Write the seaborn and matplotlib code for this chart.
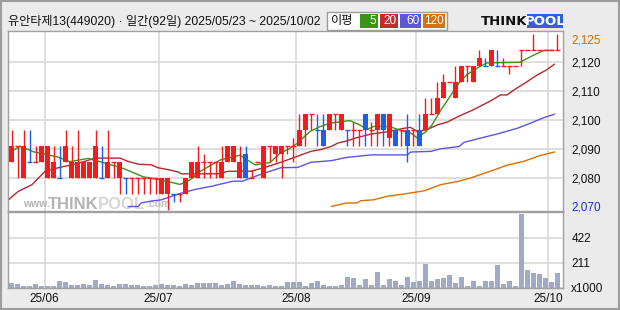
import numpy as np
import matplotlib
matplotlib.use("Agg")
import matplotlib.pyplot as plt
import matplotlib.transforms as mtransforms
from matplotlib.patches import Rectangle
import seaborn as sns

sns.set_style("white")
plt.rcParams['font.family'] = ['Liberation Sans', 'Noto Sans CJK KR', 'DejaVu Sans']

# ---------------- data ----------------
title = "유안타제13(449020) · 일간(92일) 2025/05/23 ~ 2025/10/02"

opens = [2085, 2090, 2080, 2085, 2085, 2085, 2080, 2080, 2080, 2085,
         2080, 2080, 2080, 2080, 2080, 2080, 2080, 2085, 2080, 2080,
         2080, 2080, 2080, 2080, 2080, 2075, 2075, 2075, 2075, 2075,
         2080, 2080, 2085, 2085, 2085, 2080, 2085, 2085, 2080, 2087.5,
         2080, 2085, 2080, 2090, 2087.5, 2087.5, 2090, 2090, 2090, 2095,
         2100, 2095, 2095, 2095, 2100, 2095, 2095, 2095, 2095, 2100,
         2095, 2095, 2100, 2092.5, 2095, 2095, 2095, 2095, 2095, 2095,
         2100, 2100, 2105, 2110, 2105, 2110, 2115, 2110, 2115, 2115,
         2115, 2115, 2115, 2115, 2115, 2120, 2120, 2120, 2120, 2120,
         2120, 2120]
highs = [2095, 2090, 2095, 2095, 2090, 2090, 2090, 2090, 2090, 2095,
         2090, 2095, 2085, 2085, 2095, 2090, 2095, 2085, 2085, 2080,
         2080, 2080, 2080, 2080, 2080, 2080, 2080, 2075, 2075, 2080,
         2085, 2090, 2087.5, 2085, 2085, 2090, 2090, 2090, 2090, 2090,
         2082.5, 2085, 2090, 2090, 2090, 2090, 2090, 2092.5, 2100, 2100,
         2100, 2100, 2100, 2100, 2100, 2100, 2095, 2097.5, 2095, 2100,
         2097.5, 2100, 2100, 2100, 2095, 2095, 2100, 2095, 2100, 2105,
         2105, 2110, 2112.5, 2110, 2115, 2115, 2115, 2115, 2120, 2117.5,
         2120, 2120, 2117.5, 2115, 2115, 2120, 2120, 2125, 2120, 2120,
         2120, 2125]
lows = [2085, 2080, 2080, 2085, 2085, 2085, 2080, 2080, 2080, 2085,
        2080, 2080, 2080, 2080, 2080, 2080, 2080, 2080, 2075, 2075,
        2075, 2075, 2075, 2075, 2075, 2075, 2070, 2072.5, 2072.5, 2075,
        2080, 2080, 2080, 2080, 2080, 2080, 2085, 2085, 2080, 2080,
        2080, 2085, 2080, 2085, 2085, 2080, 2087.5, 2085, 2090, 2090,
        2095, 2090, 2090, 2095, 2095, 2095, 2090, 2090, 2090, 2090,
        2090, 2090, 2090, 2090, 2090, 2090, 2085, 2090, 2090, 2095,
        2100, 2100, 2105, 2110, 2105, 2110, 2110, 2110, 2115, 2115,
        2115, 2115, 2115, 2112.5, 2115, 2115, 2120, 2120, 2120, 2120,
        2120, 2120]
closes = [2090, 2090, 2090, 2085, 2085, 2090, 2090, 2085, 2080, 2090,
          2085, 2085, 2085, 2085, 2090, 2080, 2085, 2085, 2085, 2080,
          2080, 2080, 2080, 2080, 2080, 2080, 2080, 2075, 2075, 2080,
          2085, 2085, 2085, 2085, 2085, 2085, 2090, 2090, 2085, 2080,
          2080, 2085, 2090, 2090, 2090, 2090, 2090, 2090, 2095, 2100,
          2100, 2095, 2090, 2100, 2100, 2100, 2095, 2095, 2095, 2095,
          2095, 2100, 2095, 2100, 2090, 2095, 2090, 2095, 2090, 2100,
          2100, 2105, 2110, 2110, 2110, 2115, 2115, 2115, 2117.5, 2115,
          2120, 2115, 2115, 2115, 2115, 2120, 2120, 2120, 2120, 2120,
          2120, 2120]
volume_k = [45, 34, 14, 14, 31, 14, 14, 14, 62, 48,
            25, 25, 31, 22, 65, 31, 22, 14, 37, 31,
            28, 22, 14, 14, 22, 37, 25, 22, 14, 37,
            28, 39, 39, 39, 39, 25, 34, 56, 34, 28,
            22, 25, 14, 28, 14, 14, 48, 48, 48, 14,
            39, 56, 22, 14, 14, 22, 90, 81, 22, 73,
            22, 132, 22, 73, 59, 22, 90, 48, 56, 200,
            56, 76, 81, 107, 39, 93, 14, 56, 14, 56,
            56, 191, 31, 56, 14, 625, 149, 124, 115, 84,
            48, 127]

ma5_idx = [-0.4, 1.4, 2.25, 3.6, 7.6, 9.75, 12.75, 14.75, 18.6, 21.9, 24.75, 28.1,
           29.75, 31.4, 34.75, 38.1, 40.6, 43.1, 44.75, 46.4, 47.6, 49.75, 51.4,
           53.1, 56.4, 58.1, 59.25, 60.4, 63.1, 65.4, 66.6, 67.6, 69.1, 70.1,
           71.6, 73.25, 74.6, 75.9, 77.6, 79.25, 84.75, 87.1, 88.75, 90.4]
ma5_val = [2087.9, 2090.0, 2089.4, 2088.3, 2086.7, 2085.2, 2086.2, 2085.2, 2083.1,
           2080.5, 2079.5, 2078.1, 2079.5, 2082.1, 2085.7, 2087.2, 2084.2, 2084.9,
           2087.8, 2089.3, 2090.9, 2094.6, 2096.1, 2097.2, 2098.0, 2096.6, 2095.2,
           2096.2, 2096.1, 2094.6, 2094.1, 2092.6, 2094.6, 2096.7, 2101.4, 2106.0,
           2109.8, 2112.3, 2114.4, 2116.0, 2116.2, 2118.5, 2119.9, 2119.9]
ma20_idx = [-0.5, 1.1, 3.4, 4.5, 5.6, 7.8, 10.0, 12.25, 13.9, 18.1, 19.4, 21.1, 23.3,
            24.4, 26.1, 27.75, 28.3, 31.6, 34.4, 36.1, 39.9, 42.1, 44.9, 47.7, 49.9,
            51.6, 53.25, 54.4, 55.75, 57.6, 59.9, 62.6, 65.4, 66.5, 67.6, 69.3, 71.0,
            72.6, 74.6, 77.0, 79.8, 81.5, 82.6, 83.7, 85.9, 87.6, 89.25, 90.5]
ma20_val = [2073.3, 2075.9, 2078.0, 2080.1, 2082.2, 2083.3, 2084.2, 2085.3, 2086.3,
            2086.3, 2085.3, 2084.4, 2084.2, 2083.3, 2082.7, 2082.0, 2081.4, 2081.4,
            2081.4, 2082.2, 2082.2, 2083.3, 2085.0, 2086.9, 2088.4, 2089.0, 2089.9,
            2091.0, 2091.6, 2092.7, 2093.8, 2094.5, 2095.6, 2095.9, 2094.6, 2095.2,
            2096.7, 2097.5, 2099.4, 2101.4, 2104.1, 2106.0, 2106.0, 2107.5, 2110.1,
            2112.2, 2113.9, 2115.6]
ma60_idx = [19.4, 21.1, 21.6, 23.3, 25.0, 27.8, 30.5, 33.3, 36.9, 38.5, 39.9, 42.1,
            44.9, 47.7, 49.9, 53.3, 55.8, 59.9, 66.0, 66.5, 69.9, 71.5, 74.6, 75.4,
            78.1, 81.5, 84.3, 86.5, 88.7, 90.5]
ma60_val = [2071.2, 2071.2, 2072.3, 2072.9, 2073.3, 2075.1, 2076.5, 2077.5, 2079.1,
            2079.1, 2080.1, 2081.6, 2083.3, 2083.4, 2085.0, 2085.5, 2086.5, 2087.3,
            2087.3, 2088.2, 2088.4, 2089.2, 2089.9, 2091.2, 2092.5, 2094.1, 2095.6,
            2097.2, 2098.9, 2100.0]
ma120_idx = [53.3, 55.8, 57.6, 58.2, 60.4, 62.6, 65.4, 68.8, 71.5, 74.6, 76.5, 79.8,
             82.6, 85.4, 88.1, 90.5]
ma120_val = [2071.2, 2072.3, 2072.3, 2073.0, 2073.3, 2074.4, 2075.1, 2076.1, 2078.0,
             2079.1, 2080.1, 2082.2, 2084.1, 2085.3, 2087.1, 2088.2]

month_labels = ['25/06', '25/07', '25/08', '25/09', '25/10']
month_start_idx = [6, 25, 48, 68, 90]
price_grid_labels = ['2,080', '2,090', '2,100', '2,110', '2,120']
price_grid_values = [2080.0, 2089.05, 2098.1, 2107.15, 2116.2]
vol_tick_values = [0, 211, 422]
vol_tick_labels = ['x1000', '211', '422']
ma_labels = ['5', '20', '60', '120']

# ---------------- style ----------------
RED = '#f21c1c'
BLUE = '#1f5fe6'
C_MA5 = '#3b9318'
C_MA20 = '#b8262a'
C_MA60 = '#5b55e0'
C_MA120 = '#dc6e00'
GRID = '#d8d8d8'
SPINE = '#a0a0a0'
W, H = 620, 310

fig = plt.figure(figsize=(6.2, 3.1), dpi=100, facecolor='#ebebeb')


def fx(px):
    return px / W


def fy(py):
    return 1 - py / H


def rect_px(x0, y0, x1, y1, **kw):
    r = Rectangle((fx(x0), fy(y1)), fx(x1) - fx(x0), fy(y0) - fy(y1),
                  transform=fig.transFigure, **kw)
    fig.patches.append(r)


ax = fig.add_axes([fx(7.5), fy(211), fx(563) - fx(7.5), fy(31) - fy(211)])
axv = fig.add_axes([fx(7.5), fy(288), fx(563) - fx(7.5), fy(212) - fy(288)])

o = np.array(opens, float)
h = np.array(highs, float)
l = np.array(lows, float)
c = np.array(closes, float)
idx = np.arange(len(o))
prev = np.r_[c[0], c[:-1]]
up = (c > o) | ((c == o) & (c >= prev))
cols = np.where(up, RED, BLUE)
month_pos = np.array(month_start_idx) - 0.5

# grid
for a in (ax, axv):
    a.set_facecolor('white')
    a.set_xticks(month_pos)
    a.grid(True, color=GRID, lw=1.2, zorder=0)
    a.set_axisbelow(True)
    for s in a.spines.values():
        s.set_color(SPINE)
        s.set_linewidth(1.0)

# watermark
ax.text(0.028, 0.012, 'www.', transform=ax.transAxes, fontsize=7.5, color='#b4b4b4',
        ha='left', va='bottom', fontweight='bold', zorder=1)
ax.text(0.072, -0.006, 'THINK', transform=ax.transAxes, fontsize=12, color='#b4b4b4',
        ha='left', va='bottom', fontweight='bold', zorder=1)
ax.text(0.163, -0.006, 'POOL', transform=ax.transAxes, fontsize=12, color='#d6d6d6',
        ha='left', va='bottom', fontweight='bold', zorder=1)
ax.text(0.249, 0.012, '.com', transform=ax.transAxes, fontsize=7.5, color='#c0c0c0',
        ha='left', va='bottom', fontweight='bold', zorder=1)

# moving averages
for xi, yv, col in [(ma120_idx, ma120_val, C_MA120), (ma60_idx, ma60_val, C_MA60),
                    (ma20_idx, ma20_val, C_MA20), (ma5_idx, ma5_val, C_MA5)]:
    sns.lineplot(x=np.array(xi), y=np.array(yv), color=col, lw=1.0, ax=ax,
                 estimator=None, zorder=2)

# candles
ax.vlines(idx, l, h, colors=cols, lw=1.0, zorder=3)
bb = np.minimum(o, c)
bh = np.abs(c - o)
m = bh > 0
ax.bar(idx[m], bh[m], bottom=bb[m], width=0.82, color=cols[m], linewidth=0, zorder=4)
ax.hlines(c[~m], idx[~m] - 0.41, idx[~m] + 0.41, colors=cols[~m], lw=1.0, zorder=4)

ax.set_xlim(-0.67, 91.92)
ax.set_ylim(2069.8, 2125.95)
ax.set_yticks(price_grid_values)
ax.set_yticklabels(price_grid_labels)
ax.yaxis.tick_right()
ax.tick_params(axis='y', length=0, pad=6, labelsize=8.5, colors='#111111')
ax.tick_params(axis='x', length=0, labelbottom=False)
ax.set_xlabel('')
ax.set_ylabel('')

# max / min labels
blend = mtransforms.blended_transform_factory(ax.transAxes, ax.transData)
ax.text(1 + 8 / 555.5, h.max(), f"{h.max():,.0f}", transform=blend, color='#d86a00',
        fontsize=8.5, ha='left', va='top', clip_on=False)
ax.text(1 + 8 / 555.5, l.min(), f"{l.min():,.0f}", transform=blend, color='#1a2fd0',
        fontsize=8.5, ha='left', va='baseline', clip_on=False)

# volume
sns.barplot(x=idx, y=np.array(volume_k, float), native_scale=True, color='#a0a9c6',
            saturation=1, errorbar=None, width=0.82, linewidth=0, ax=axv, zorder=2)
axv.set_xlim(-0.67, 91.92)
axv.set_ylim(0, 640)
axv.set_xticks(month_pos)
axv.set_xticklabels(month_labels)
axv.set_yticks(vol_tick_values)
axv.set_yticklabels(vol_tick_labels)
axv.yaxis.tick_right()
axv.tick_params(axis='y', length=0, pad=6, labelsize=8.5, colors='#111111')
axv.tick_params(axis='x', length=0, pad=3.5, labelsize=8.5, colors='#111111')
axv.set_xlabel('')
axv.set_ylabel('')

# title
fig.text(fx(8), fy(21), title, fontsize=8.75, ha='left', va='center', color='#111111')

# MA legend box
rect_px(327, 12, 447, 29.5, facecolor='white', edgecolor='#9a9a9a', lw=1.0)
fig.text(fx(342), fy(21), '이평', fontsize=8.8, ha='center', va='center', color='#111111')
legend_boxes = [(360, 378, C_MA5), (380, 398, '#c42b2b'), (400, 421, '#5a57d9'),
                (423, 445, '#d8700a')]
for (x0, x1, col), lab in zip(legend_boxes, ma_labels):
    rect_px(x0, 14.5, x1, 27.5, facecolor=col, edgecolor='none')
    fig.text(fx(x1 - 1.5), fy(21.3), lab, fontsize=8.5, ha='right', va='center', color='white')

# ThinkPool logo
fig.text(fx(481), fy(21.5), 'THINK', fontsize=9.5, fontweight='heavy', ha='left',
         va='center', color='#111111', family=['DejaVu Sans'])
rect_px(527, 14.5, 563, 28, facecolor='#2f62d4', edgecolor='none')
fig.text(fx(545), fy(21.5), 'POOL', fontsize=9.5, fontweight='heavy', ha='center',
         va='center', color='white', family=['DejaVu Sans'])

# outer frame
fig.patches.append(Rectangle((0.001, 0.002), 0.997, 0.995, transform=fig.transFigure,
                             fill=False, edgecolor='#9c9c9c', lw=1.5))

fig.savefig('out.png', dpi=100, facecolor=fig.get_facecolor())
